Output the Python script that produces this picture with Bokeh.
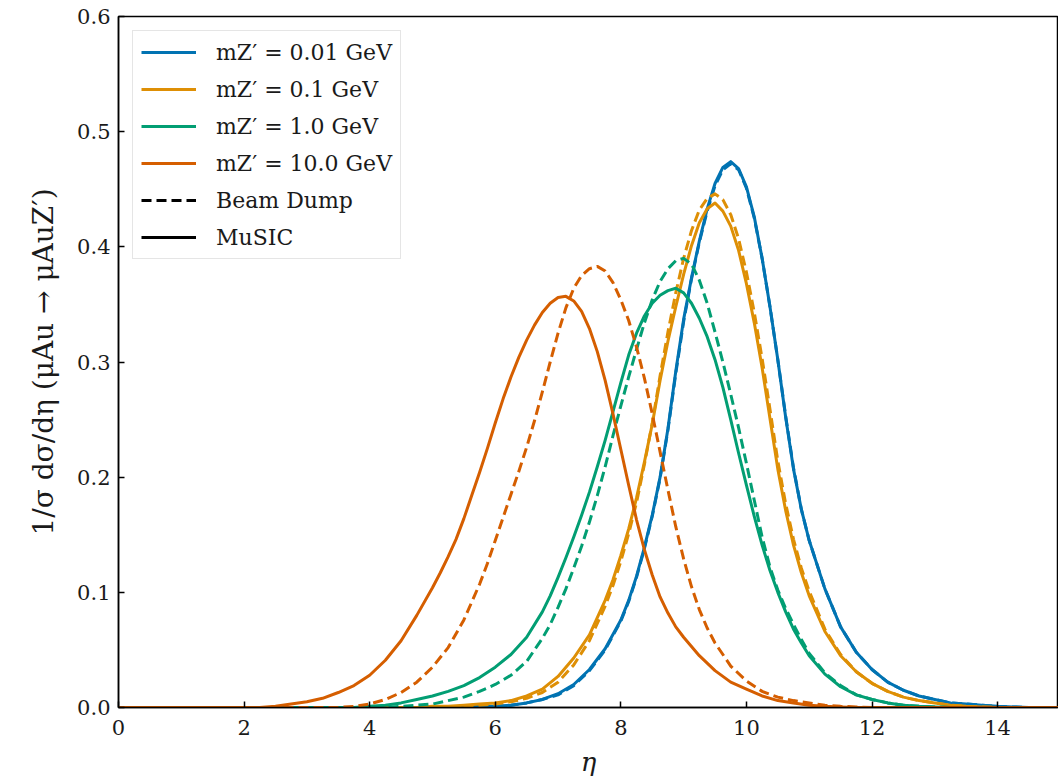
import numpy as np
from bokeh.plotting import figure
from bokeh.models import Range1d, FixedTicker, PrintfTickFormatter, Legend, LegendItem
from bokeh.embed import file_html
from bokeh.resources import INLINE


def eta_grid(a, b):
    """eta sample positions: step 0.25 outside [a, b], step 0.125 inside, from 0 to 15."""
    before = [round(i * 0.25, 3) for i in range(int(round(a / 0.25)))]
    fine = [round(a + i * 0.125, 3) for i in range(int(round((b - a) / 0.125)) + 1)]
    after = [round(b + 0.25 * (i + 1), 3) for i in range(int(round((15 - b) / 0.25)))]
    return before + fine + after


# ---- m_Z' = 0.01 GeV (sampled finely on 8.0..11.0)
eta_001 = eta_grid(8.0, 11.0)
music_001 = ([0] * 22 + [0.0005, 0.001, 0.001, 0.002, 0.004, 0.007, 0.012, 0.020, 0.033, 0.051]
             + [0.076, 0.093, 0.114, 0.139, 0.167, 0.200, 0.242, 0.292, 0.337, 0.373, 0.405, 0.433,
                0.455, 0.469, 0.474, 0.468, 0.452, 0.426, 0.390, 0.348, 0.302, 0.252, 0.207, 0.172, 0.145]
             + [0.103, 0.070, 0.048, 0.033, 0.022, 0.015, 0.010, 0.007, 0.004, 0.003, 0.002, 0.001,
                0.0005, 0, 0, 0])
dump_001 = ([0] * 22 + [0.0005, 0.001, 0.001, 0.002, 0.004, 0.007, 0.011, 0.019, 0.032, 0.050]
            + [0.075, 0.092, 0.113, 0.138, 0.166, 0.199, 0.241, 0.290, 0.335, 0.372, 0.404, 0.431,
               0.453, 0.467, 0.472, 0.467, 0.451, 0.425, 0.390, 0.348, 0.302, 0.253, 0.208, 0.172, 0.145]
            + [0.103, 0.070, 0.048, 0.033, 0.022, 0.015, 0.010, 0.007, 0.004, 0.003, 0.002, 0.001,
               0.0005, 0, 0, 0])

# ---- m_Z' = 0.1 GeV (fine on 7.75..11.0)
eta_01 = eta_grid(7.75, 11.0)
music_01 = ([0] * 20 + [0.001, 0.001, 0.002, 0.003, 0.004, 0.006, 0.010, 0.016, 0.027, 0.043, 0.063]
            + [0.093, 0.111, 0.132, 0.155, 0.182, 0.213, 0.246, 0.284, 0.318, 0.348, 0.376, 0.401,
               0.421, 0.433, 0.438, 0.431, 0.418, 0.397, 0.368, 0.334, 0.295, 0.251, 0.207, 0.171,
               0.141, 0.117, 0.097]
            + [0.066, 0.045, 0.031, 0.021, 0.014, 0.009, 0.006, 0.004, 0.002, 0.001, 0.0005,
               0, 0, 0, 0, 0])
dump_01 = ([0] * 22 + [0.001, 0.002, 0.003, 0.005, 0.008, 0.013, 0.022, 0.037, 0.058]
           + [0.088, 0.106, 0.127, 0.151, 0.178, 0.211, 0.247, 0.288, 0.326, 0.360, 0.390, 0.414,
              0.432, 0.442, 0.446, 0.441, 0.428, 0.407, 0.378, 0.343, 0.303, 0.259, 0.214, 0.177,
              0.146, 0.121, 0.101]
           + [0.068, 0.046, 0.031, 0.021, 0.014, 0.009, 0.006, 0.004, 0.002, 0.001, 0.0005,
              0, 0, 0, 0, 0])

# ---- m_Z' = 1.0 GeV (fine on 6.75..11.0)
eta_1 = eta_grid(6.75, 11.0)
music_1 = ([0] * 16 + [0.001, 0.002, 0.004, 0.007, 0.010, 0.014, 0.019, 0.026, 0.035, 0.046, 0.061]
           + [0.083, 0.097, 0.113, 0.130, 0.148, 0.167, 0.187, 0.209, 0.232, 0.257, 0.282, 0.306,
              0.325, 0.340, 0.351, 0.358, 0.362, 0.364, 0.360, 0.351, 0.338, 0.322, 0.302, 0.278,
              0.250, 0.221, 0.193, 0.166, 0.141, 0.119, 0.100, 0.083, 0.068, 0.056, 0.045]
           + [0.029, 0.018, 0.011, 0.007, 0.004, 0.002, 0.001, 0.0005] + [0] * 8)
dump_1 = ([0] * 18 + [0.001, 0.002, 0.003, 0.006, 0.009, 0.014, 0.020, 0.028, 0.040]
          + [0.060, 0.072, 0.087, 0.103, 0.121, 0.140, 0.161, 0.184, 0.209, 0.236, 0.262, 0.287,
             0.311, 0.334, 0.354, 0.370, 0.381, 0.388, 0.390, 0.385, 0.371, 0.351, 0.326, 0.300,
             0.272, 0.243, 0.212, 0.180, 0.148, 0.122, 0.102, 0.086, 0.072, 0.059, 0.047]
          + [0.030, 0.019, 0.011, 0.007, 0.004, 0.002, 0.001, 0.0005] + [0] * 8)

# ---- m_Z' = 10.0 GeV
eta_10 = eta_grid(5.0, 9.0)
music_10 = ([0] * 10 + [0.001, 0.003, 0.005, 0.008, 0.013, 0.019, 0.028, 0.041, 0.058, 0.080]
            + [0.104, 0.117, 0.131, 0.146, 0.164, 0.184, 0.204, 0.225, 0.247, 0.268, 0.287, 0.304,
               0.319, 0.332, 0.343, 0.351, 0.356, 0.357, 0.353, 0.344, 0.329, 0.309, 0.284, 0.255,
               0.224, 0.193, 0.163, 0.137, 0.115, 0.096, 0.082, 0.070, 0.061]
            + [0.045, 0.032, 0.022, 0.016, 0.010, 0.006, 0.004, 0.002, 0.001, 0.0005] + [0] * 14)
eta_10d = eta_grid(5.75, 9.5)
dump_10 = ([0] * 15 + [0.001, 0.003, 0.007, 0.013, 0.022, 0.035, 0.052, 0.076]
           + [0.107, 0.125, 0.145, 0.165, 0.185, 0.205, 0.226, 0.249, 0.274, 0.300, 0.325, 0.347,
              0.364, 0.375, 0.381, 0.383, 0.379, 0.369, 0.354, 0.336, 0.313, 0.286, 0.255, 0.222,
              0.189, 0.157, 0.129, 0.105, 0.085, 0.069, 0.056]
           + [0.036, 0.023, 0.014, 0.009, 0.006, 0.004, 0.002, 0.001, 0.0005] + [0] * 13)

mass_labels = ["mZ′ = 0.01 GeV", "mZ′ = 0.1 GeV", "mZ′ = 1.0 GeV", "mZ′ = 10.0 GeV"]
colors = ["#0173B2", "#DE8F05", "#029E73", "#D55E00"]
music_series = [(eta_001, music_001), (eta_01, music_01), (eta_1, music_1), (eta_10, music_10)]
dump_series = [(eta_001, dump_001), (eta_01, dump_01), (eta_1, dump_1), (eta_10d, dump_10)]
x_ticks = [0, 2, 4, 6, 8, 10, 12, 14]
y_ticks = [0.0, 0.1, 0.2, 0.3, 0.4, 0.5, 0.6]

for xs, ys in music_series + dump_series:
    assert len(xs) == len(ys), (len(xs), len(ys))

SERIF = "DejaVu Serif"
LW = 3.0
DASH = "10 5"
TXT = "#1a1a1a"

p = figure(width=1058, height=784, x_range=Range1d(0, 14.97), y_range=Range1d(0, 0.6),
           output_backend="svg", toolbar_location=None,
           min_border_left=118, min_border_right=0, min_border_top=16, min_border_bottom=77)
p.background_fill_color = "white"
p.border_fill_color = "white"
p.outline_line_color = "black"
p.outline_line_width = 1.5
p.xgrid.visible = False
p.ygrid.visible = False

solid_renderers = []
for (xd, yd), (xm, ym), c in zip(dump_series, music_series, colors):
    p.line(xd, yd, line_color=c, line_width=LW, line_dash=DASH, line_join="round")
    r = p.line(xm, ym, line_color=c, line_width=LW, line_join="round")
    solid_renderers.append(r)

# legend-only style keys
r_dump = p.line(x=[np.nan], y=[np.nan], line_color="black", line_width=LW, line_dash=DASH)
r_music = p.line(x=[np.nan], y=[np.nan], line_color="black", line_width=LW)

for ax in (p.xaxis[0], p.yaxis[0]):
    ax.axis_line_color = "black"
    ax.axis_line_width = 1.5
    ax.major_tick_in = 6
    ax.major_tick_out = 0
    ax.major_tick_line_width = 1.5
    ax.major_tick_line_color = "black"
    ax.minor_tick_line_color = None
    ax.major_label_text_font = SERIF
    ax.major_label_text_font_size = "21px"
    ax.major_label_text_color = TXT
    ax.axis_label_text_font = SERIF
    ax.axis_label_text_color = TXT

p.xaxis.ticker = FixedTicker(ticks=x_ticks)
p.yaxis.ticker = FixedTicker(ticks=y_ticks)
p.yaxis.formatter = PrintfTickFormatter(format="%.1f")
p.xaxis.major_label_standoff = 12
p.yaxis.major_label_standoff = 8

p.xaxis.axis_label = "η"
p.xaxis.axis_label_text_font_style = "italic"
p.xaxis.axis_label_text_font_size = "26px"
p.xaxis.axis_label_standoff = 9

p.yaxis.axis_label = "1/σ dσ/dη (μAu → μAuZ′)"
p.yaxis.axis_label_text_font_style = "normal"
p.yaxis.axis_label_text_font_size = "28px"
p.yaxis.axis_label_standoff = 14

items = [LegendItem(label=lab, renderers=[r]) for lab, r in zip(mass_labels, solid_renderers)]
items.append(LegendItem(label="Beam Dump", renderers=[r_dump]))
items.append(LegendItem(label="MuSIC", renderers=[r_music]))
legend = Legend(items=items, location="top_left")
legend.margin = 14
legend.padding = 8
legend.glyph_width = 55
legend.glyph_height = 26
legend.spacing = 11
legend.label_standoff = 20
legend.label_text_font = SERIF
legend.label_text_font_size = "22px"
legend.label_text_color = TXT
legend.border_line_color = "#cccccc"
legend.border_line_width = 1
legend.background_fill_alpha = 0.85
p.add_layout(legend)

open("out.html", "w").write(file_html(p, INLINE))
